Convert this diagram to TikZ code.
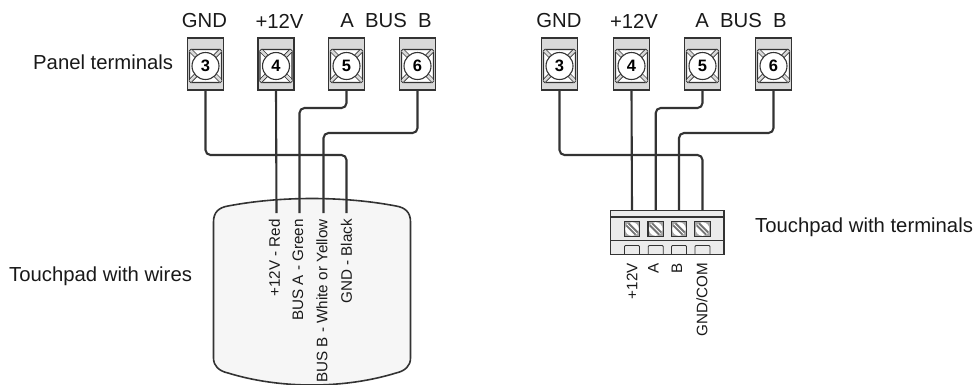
\documentclass[tikz,border=0pt]{standalone}
\usepackage{fontspec}
\setmainfont{Liberation Sans}
\definecolor{ink}{HTML}{333333}
\tikzset{x=1pt,y=-1pt,
 wire/.style={draw=ink,line width=2.1pt,rounded corners=5pt},
 lbl/.style={inner sep=0pt,font=\fontsize{20.3}{22}\selectfont,text=black!90},
 vlbl/.style={inner sep=0pt,font=\fontsize{15.2}{17}\selectfont,rotate=90,anchor=east,text=black!90},
 termbox/.style={draw=ink,line width=1.1pt,fill=black!15,minimum width=36pt,minimum height=52pt,inner sep=0pt},
 tnum/.style={draw=ink,line width=1.1pt,circle,fill=white,minimum size=27pt,inner sep=0pt,font=\fontsize{16.5}{18}\selectfont\bfseries},
 screw/.style={draw=ink,line width=1.2pt,fill=black!35,minimum size=15.5pt,inner sep=0pt},
}
\newcommand{\terminal}[4]{% name, x, y, number
 \node[termbox] (#1) at (#2,#3) {};
 \fill[white,draw=ink,line width=1.1pt,rounded corners=1.5pt] ($(#1)+(-16,-14.5)$) rectangle ($(#1)+(16,18.5)$);
 \draw[black!15,line width=3pt] ($(#1)+(-15,-13.5)$) -- ($(#1)+(15,17.5)$) ($(#1)+(15,-13.5)$) -- ($(#1)+(-15,17.5)$);
 \draw[ink,line width=.7pt] ($(#1)+(-14,-15)$) -- ($(#1)+(16,15)$) ($(#1)+(-16,-12)$) -- ($(#1)+(14,18)$)
   ($(#1)+(14,-15)$) -- ($(#1)+(-16,15)$) ($(#1)+(16,-12)$) -- ($(#1)+(-14,18)$);
 \node[tnum] (#1n) at ($(#1)+(0,2)$) {#4};
}
\newcommand{\blockscrew}[2]{% name, x
 \node[screw] (#1) at (#2,229) {};
 \fill[white] (#1) circle (6.8pt);
 \begin{scope}
  \clip (#1) circle (6.8pt);
  \fill[black!55] ($(#1)+(-8,-4.5)$) -- ($(#1)+(-4.5,-8)$) -- ($(#1)+(8,4.5)$) -- ($(#1)+(4.5,8)$) -- cycle;
  \draw[white,line width=.9pt] ($(#1)+(-6,-6)$) -- ($(#1)+(6,6)$);
 \end{scope}
 \draw[ink,line width=.8pt,rounded corners=1pt] (#2-7.5,254) -- (#2-7.5,245.5) -- (#2+7.5,245.5) -- (#2+7.5,254);
}
\usetikzlibrary{calc}
\begin{document}
\begin{tikzpicture}
\useasboundingbox (0,0) rectangle (977,384);
% touchpad with wires
\begin{scope}
\clip (0,0) rectangle (977,384);
\path[fill=black!3.5,draw=ink,line width=1.6pt]
  (228,206) .. controls (280,196) and (344,196) .. (396,206)
  .. controls (405,207.5) and (410.5,212) .. (410.5,222)
  -- (410.5,358) .. controls (410.5,366) and (405,371) .. (396,373)
  .. controls (344,389) and (280,389) .. (228,373)
  .. controls (219,371) and (213.5,366) .. (213.5,358)
  -- (213.5,222) .. controls (213.5,212) and (219,207.5) .. (228,206) -- cycle;
\end{scope}
% terminals
\terminal{a3}{205.5}{64}{3}
\terminal{a4}{276}{64}{4}
\terminal{a5}{346.5}{64}{5}
\terminal{a6}{417.5}{64}{6}
\terminal{b3}{559.5}{64}{3}
\terminal{b4}{631.5}{64}{4}
\terminal{b5}{702.5}{64}{5}
\terminal{b6}{773.5}{64}{6}
% block
\node[draw=ink,line width=1.1pt,fill=black!8,minimum width=113.5pt,minimum height=43.5pt,inner sep=0pt] (block) at (667.2,232.5) {};
\draw[ink,line width=1.1pt] (610.5,217) -- (724,217) (610.5,240.5) -- (724,240.5);
\blockscrew{s1}{632}
\blockscrew{s2}{655.7}
\blockscrew{s3}{679}
\blockscrew{s4}{702.5}
% wire ends
\coordinate (e1) at (276.5,213);
\coordinate (e2) at (299.5,213);
\coordinate (e3) at (323.5,213);
\coordinate (e4) at (346.5,213);
% wires left
\draw[wire] (a3.south) -- (205.5,155) -- (346.5,155) -- (e4);
\draw[wire] (a4.south) -- (e1);
\draw[wire] (a5.south) -- (346.5,108) -- (299.5,108) -- (e2);
\draw[wire] (a6.south) -- (417.5,133) -- (323.5,133) -- (e3);
% wires right
\draw[wire] (b3.south) -- (559.5,155) -- (702.5,155) -- (s4|-block.north);
\draw[wire] (b4.south) -- (s1|-block.north);
\draw[wire] (b5.south) -- (702.5,108) -- (655.7,108) -- (s2|-block.north);
\draw[wire] (b6.south) -- (773.5,133) -- (679,133) -- (s3|-block.north);
% top labels
\node[lbl] (g1) at (204.5,21) {GND};
\node[lbl] (v1) at (279.5,21) {+12V};
\node[lbl] (bus1) at (386,21) {A\ \ BUS\ \ B};
\node[lbl] (g2) at (559,21) {GND};
\node[lbl] (v2) at (634,21) {+12V};
\node[lbl] (bus2) at (741,21) {A\ \ BUS\ \ B};
\node[lbl,anchor=west] (pt) at (33,62) {Panel terminals};
\node[lbl,anchor=west] (tw) at (9,276) {Touchpad with wires};
\node[lbl,anchor=west] (tt) at (755,227) {Touchpad with terminals};
% vertical labels
\node[vlbl] (l1) at (274.5,219) {+12V - Red};
\node[vlbl] (l2) at (298,219) {BUS A - Green};
\node[vlbl] (l3) at (322,219) {BUS B - White or Yellow};
\node[vlbl] (l4) at (346.5,219) {GND - Black};
\node[vlbl] (m1) at (632,263) {+12V};
\node[vlbl] (m2) at (653.5,263) {A};
\node[vlbl] (m3) at (677,263) {B};
\node[vlbl] (m4) at (702,263) {GND/COM};
\end{tikzpicture}
\end{document}
